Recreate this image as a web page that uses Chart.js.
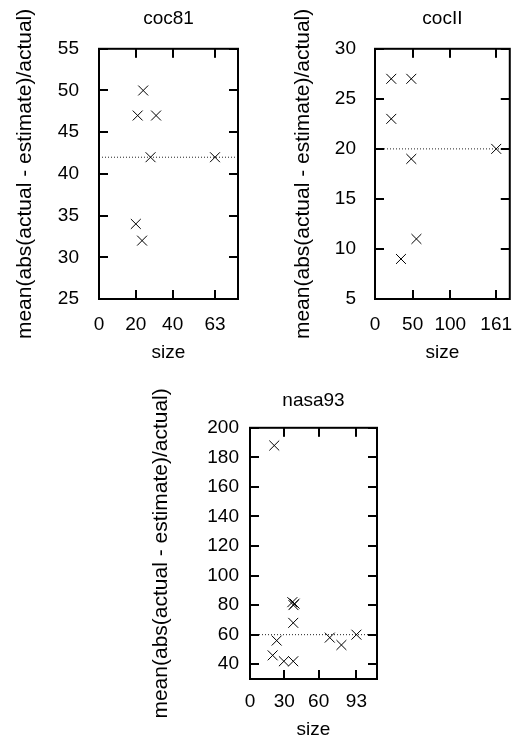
<!DOCTYPE html>
<html>
<head>
<meta charset="utf-8">
<script src="https://cdn.jsdelivr.net/npm/chart.js@4"></script>
<style>
  body { margin: 0; background: #fff; overflow: hidden; }
  canvas { position: absolute; }
</style>
</head>
<body>
<canvas id="c1" width="259" height="370" style="left:0;top:0"></canvas>
<canvas id="c2" width="260" height="370" style="left:259px;top:0"></canvas>
<canvas id="c3" width="260" height="370" style="left:140px;top:371px"></canvas>
<script>
// coc81
const coc81Size = [21, 24, 31, 28, 63, 20, 23.4];
const coc81Mre = [47, 50, 47, 42, 42, 34, 32];
const coc81Mean = 42;
const coc81XTicks = [0, 20, 40, 63];
const coc81YTicks = [25, 30, 35, 40, 45, 50, 55];

// cocII
const cocIISize = [21.6, 48.2, 21.6, 48.2, 161, 55, 34.5];
const cocIIMre = [27, 27, 23, 19, 20, 11, 9];
const cocIIMean = 20;
const cocIIXTicks = [0, 50, 100, 161];
const cocIIYTicks = [5, 10, 15, 20, 25, 30];

// nasa93
const nasaSize = [21.2, 23.3, 19.8, 29.6, 37.8, 37.8, 37, 38, 39, 69.7, 79.9, 93];
const nasaMre = [188, 56, 46, 42, 42, 68, 82, 80, 81, 58, 53, 60];
const nasaMean = 60;
const nasaXTicks = [0, 30, 60, 93];
const nasaYTicks = [40, 60, 80, 100, 120, 140, 160, 180, 200];

const yTitle = 'mean(abs(actual - estimate)/actual)';
const FONT = "'Liberation Sans', Arial, sans-serif";

Chart.defaults.color = '#000';
Chart.defaults.font.family = FONT;
Chart.defaults.font.size = 19;

// gnuplot style box with inward ticks on all four sides
const frame = {
    id: 'frame',
    afterDraw(chart) {
        const ctx = chart.ctx, a = chart.chartArea;
        const x = chart.scales.x, y = chart.scales.y;
        ctx.save();
        ctx.setLineDash([]);
        ctx.fillStyle = '#000';
        x.ticks.forEach(t => {
            const px = Math.round(x.getPixelForValue(t.value));
            ctx.fillRect(px - 1, a.bottom - 9, 2, 9);
            ctx.fillRect(px - 1, a.top, 2, 9);
        });
        y.ticks.forEach(t => {
            const py = Math.round(y.getPixelForValue(t.value));
            ctx.fillRect(a.left, py - 1, 9, 2);
            ctx.fillRect(a.right - 9, py - 1, 9, 2);
        });
        ctx.strokeStyle = '#000';
        ctx.lineWidth = 2;
        ctx.strokeRect(a.left, a.top, a.width, a.height);
        ctx.restore();
    }
};

function makeChart(id, o) {
    return new Chart(document.getElementById(id), {
        type: 'scatter',
        data: {
            datasets: [{
                data: o.size.map((s, i) => ({ x: s, y: o.mre[i] })),
                pointStyle: 'crossRot',
                pointRadius: 7,
                borderColor: '#000',
                backgroundColor: '#000',
                borderWidth: 1
            }, {
                // dotted mean line
                type: 'line',
                data: [{ x: o.xMin, y: o.mean }, { x: o.xMax, y: o.mean }],
                borderColor: '#222',
                borderWidth: 1,
                borderDash: [1, 2],
                pointRadius: 0,
                fill: false
            }]
        },
        options: {
            responsive: false,
            animation: false,
            devicePixelRatio: 1,
            layout: { padding: { left: 0, right: o.padRight, top: 0, bottom: 0 } },
            plugins: {
                legend: { display: false },
                tooltip: { enabled: false },
                title: {
                    display: true,
                    text: o.title,
                    fullSize: false,
                    font: { size: 19, weight: 'normal' },
                    color: '#000',
                    padding: { top: o.titleTop, bottom: o.titleBottom }
                }
            },
            scales: {
                x: {
                    type: 'linear',
                    min: o.xMin,
                    max: o.xMax,
                    grid: { display: false },
                    border: { display: false },
                    afterBuildTicks: s => { s.ticks = o.xTicks.map(v => ({ value: v })); },
                    afterFit: s => { s.height = o.xHeight; },
                    ticks: { padding: o.xPad, maxRotation: 0, autoSkip: false, font: { size: 19 } },
                    title: { display: true, text: 'size', font: { size: 19 }, padding: { top: 0, bottom: o.xTitlePad } }
                },
                y: {
                    min: o.yMin,
                    max: o.yTicks[o.yTicks.length - 1],
                    grid: { display: false },
                    border: { display: false },
                    afterBuildTicks: s => { s.ticks = o.yTicks.map(v => ({ value: v })); },
                    afterFit: s => { s.width = o.yWidth; },
                    ticks: { padding: o.yPad, autoSkip: false, font: { size: 19 } },
                    title: { display: true, text: yTitle, font: { size: 21 }, padding: { top: o.yTitlePad, bottom: 0 } }
                }
            }
        },
        plugins: [frame]
    });
}

makeChart('c1', {
    title: 'coc81', size: coc81Size, mre: coc81Mre, mean: coc81Mean,
    xTicks: coc81XTicks, yTicks: coc81YTicks, xMin: 0, xMax: 75.5, yMin: 25,
    padRight: 21, titleTop: 7, titleBottom: 19, xHeight: 71, xPad: 6, xTitlePad: 6,
    yWidth: 99, yPad: 12, yTitlePad: 13
});

makeChart('c2', {
    title: 'cocII', size: cocIISize, mre: cocIIMre, mean: cocIIMean,
    xTicks: cocIIXTicks, yTicks: cocIIYTicks, xMin: 0, xMax: 179, yMin: 5,
    padRight: 5, titleTop: 7, titleBottom: 19, xHeight: 71, xPad: 6, xTitlePad: 6,
    yWidth: 116, yPad: 11, yTitlePad: 32
});

makeChart('c3', {
    title: 'nasa93', size: nasaSize, mre: nasaMre, mean: nasaMean,
    xTicks: nasaXTicks, yTicks: nasaYTicks, xMin: 0, xMax: 111, yMin: 30,
    padRight: 23, titleTop: 18, titleBottom: 16, xHeight: 62, xPad: 3, xTitlePad: 0,
    yWidth: 110, yPad: 3, yTitlePad: 9
});
</script>
</body>
</html>
